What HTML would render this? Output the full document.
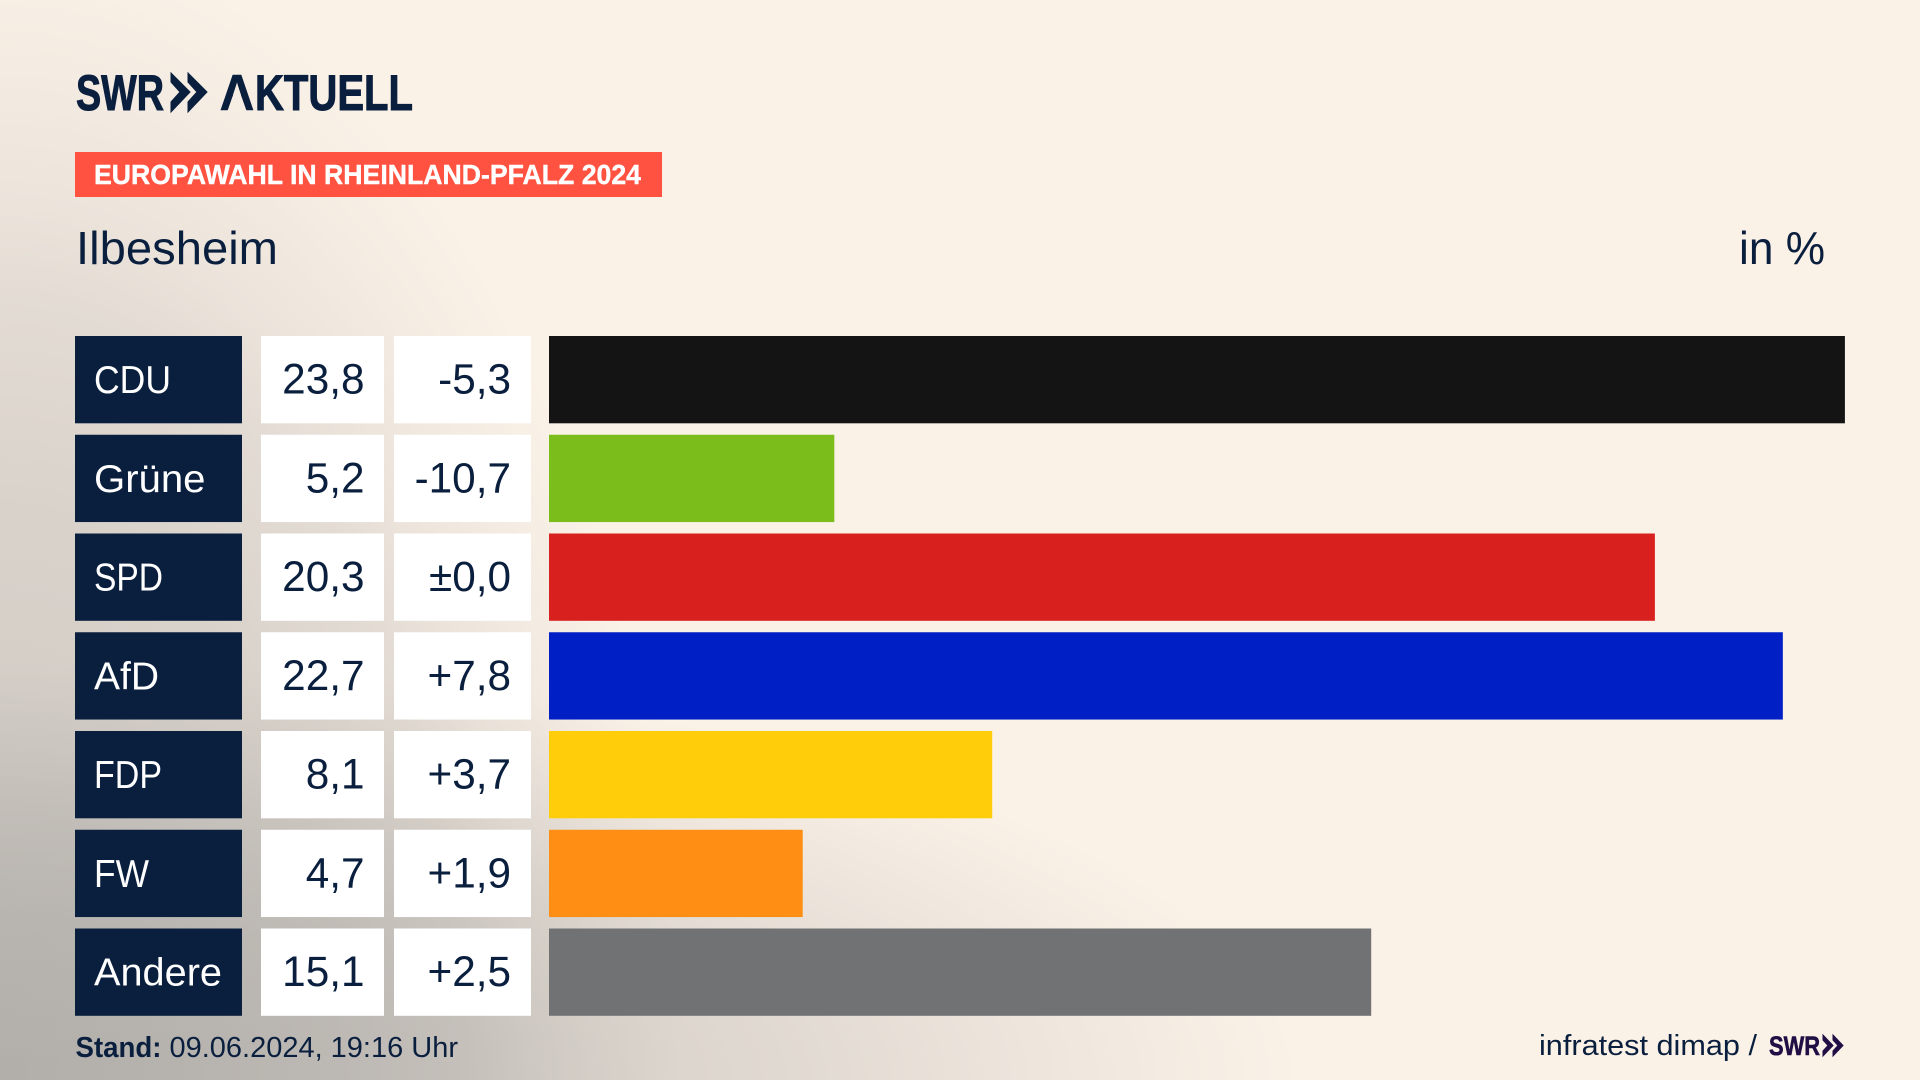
<!DOCTYPE html>
<html lang="de">
<head>
<meta charset="utf-8">
<title>Europawahl in Rheinland-Pfalz 2024 – Ilbesheim</title>
<style>
html,body{margin:0;padding:0;width:1920px;height:1080px;overflow:hidden;background:#faf1e7}
#stage{position:absolute;left:0;top:0;width:1920px;height:1080px;
background:
radial-gradient(ellipse 1300px 420px at 0px 1080px,rgba(128,128,128,.36) 0,rgba(128,128,128,.30) 38%,rgba(128,128,128,.21) 60%,rgba(128,128,128,.115) 77%,rgba(128,128,128,0) 100%),
radial-gradient(ellipse 680px 1150px at 0px 1080px,rgba(128,128,128,.36) 0,rgba(128,128,128,.33) 24%,rgba(128,128,128,.27) 50%,rgba(128,128,128,.19) 68%,rgba(128,128,128,.11) 77%,rgba(128,128,128,.05) 88%,rgba(128,128,128,0) 100%),
#faf1e7}
svg{position:absolute;left:0;top:0}
text{font-family:"Liberation Sans",sans-serif;fill:#0a1f3e}
</style>
</head>
<body>
<div id="stage">
<svg id="chart" width="1920" height="1080" viewBox="0 0 1920 1080" xmlns="http://www.w3.org/2000/svg">
  <defs>
    <clipPath id="no-crossbar"><path clip-rule="evenodd" d="M200 60H430V125H200Z M237 84L227 112L247 112Z"/></clipPath>
  </defs>
  <g>
    <text x="76" y="110" font-size="50" font-weight="700" textLength="88" lengthAdjust="spacingAndGlyphs" stroke="#0a1f3e" stroke-width="1">SWR</text>
    <polygon points="171,73 190,92 171,112 171,102 180,92 171,82" fill="#0a1f3e" stroke="#0a1f3e" stroke-width="1"/>
    <polygon points="188,73 207,92 188,112 188,102 197,92 188,82" fill="#0a1f3e" stroke="#0a1f3e" stroke-width="1"/>
    <text clip-path="url(#no-crossbar)" y="110" font-size="50" font-weight="700" stroke="#0a1f3e" stroke-width="1"><tspan x="220" textLength="34" lengthAdjust="spacingAndGlyphs">A</tspan><tspan x="255" textLength="158" lengthAdjust="spacingAndGlyphs">KTUELL</tspan></text>
  </g>
  <rect x="75" y="152" width="587" height="45" fill="#ff5240"/>
  <text x="94" y="184" font-size="27.5" font-weight="700" style="fill:#fff" stroke="#fff" stroke-width="0.4" textLength="547" lengthAdjust="spacingAndGlyphs">EUROPAWAHL IN RHEINLAND-PFALZ 2024</text>
  <text x="76" y="264" font-size="46" textLength="202" lengthAdjust="spacingAndGlyphs">Ilbesheim</text>
  <text x="1739" y="264" font-size="46" textLength="86" lengthAdjust="spacingAndGlyphs">in %</text>
  <g id="rows"></g>
  <text x="75.5" y="1057" font-size="29"><tspan font-weight="700" textLength="86" lengthAdjust="spacingAndGlyphs">Stand:</tspan></text>
  <text x="169.5" y="1057" font-size="29" textLength="288.5" lengthAdjust="spacingAndGlyphs">09.06.2024, 19:16 Uhr</text>
  <text x="1539" y="1055" font-size="29" textLength="218" lengthAdjust="spacingAndGlyphs">infratest dimap /</text>
  <text x="1769" y="1055" font-size="27" font-weight="700" style="fill:#1f0f45" stroke="#1f0f45" stroke-width="0.6" textLength="51" lengthAdjust="spacingAndGlyphs">SWR</text>
  <polygon points="1823,1035 1833,1045.5 1823,1056 1823,1051 1828,1045.5 1823,1040" fill="#1f0f45" stroke="#1f0f45" stroke-width="1"/>
  <polygon points="1833,1035 1843,1045.5 1833,1056 1833,1051 1838,1045.5 1833,1040" fill="#1f0f45" stroke="#1f0f45" stroke-width="1"/>
</svg>
</div>
<script>
const parties = ['CDU', 'Grüne', 'SPD', 'AfD', 'FDP', 'FW', 'Andere'];
const shares = [23.8, 5.24, 20.31, 22.66, 8.14, 4.66, 15.1];
const changes = [-5.3, -10.7, 0.0, 7.8, 3.7, 1.9, 2.5];
const partyColors = ['#141414', '#7bbd1a', '#d8201e', '#0020c6', '#ffcd0a', '#ff8f14', '#717274'];

const NS = 'http://www.w3.org/2000/svg';
const rowsGroup = document.getElementById('rows');
const BAR_X = 549, PX_PER_POINT = 54.45, ROW_TOP = 336, ROW_PITCH = 98.75, ROW_H = 87.3;
const labelFit = { CDU: 77, 'Grüne': 111.5, SPD: 69, AfD: 65, FDP: 68, FW: 55, Andere: 128 };

function xScale(v) { return BAR_X + v * PX_PER_POINT; }
function yScale(i) { return ROW_TOP + i * ROW_PITCH; }
function formatShare(v) { return v.toFixed(1).replace('.', ','); }
function formatChange(v) {
  const body = Math.abs(v).toFixed(1).replace('.', ',');
  if (v === 0) return '±' + body;
  return (v > 0 ? '+' : '-') + body;
}
function makeRect(x, y, w, h, fill) {
  const r = document.createElementNS(NS, 'rect');
  r.setAttribute('x', x);
  r.setAttribute('y', y);
  r.setAttribute('width', w);
  r.setAttribute('height', h);
  r.setAttribute('fill', fill);
  return r;
}
function makeText(x, y, str) {
  const t = document.createElementNS(NS, 'text');
  t.setAttribute('x', x);
  t.setAttribute('y', y);
  t.textContent = str;
  return t;
}

parties.forEach(function (party, i) {
  const y = yScale(i);
  const base = y + 57;

  const nameBox = makeRect(75, y, 167, ROW_H, '#0a1f3e');
  
  
  rowsGroup.appendChild(nameBox);

  const nameText = makeText(94, base, party);
  
  
  nameText.setAttribute('font-size', '38.5');
  nameText.setAttribute('style', 'fill:#fff');
  if (labelFit[party]) {
    nameText.setAttribute('textLength', labelFit[party]);
    nameText.setAttribute('lengthAdjust', 'spacingAndGlyphs');
  }
  rowsGroup.appendChild(nameText);

  const shareBox = makeRect(261, y, 123, ROW_H, '#ffffff');
  
  
  rowsGroup.appendChild(shareBox);

  const shareText = makeText(364.5, base + 0.5, formatShare(shares[i]));
  
  
  shareText.setAttribute('font-size', '42.3');
  shareText.setAttribute('text-anchor', 'end');
  rowsGroup.appendChild(shareText);

  const changeBox = makeRect(394, y, 137, ROW_H, '#ffffff');
  
  
  rowsGroup.appendChild(changeBox);

  const changeText = makeText(511, base + 0.5, formatChange(changes[i]));
  
  
  changeText.setAttribute('font-size', '42.3');
  changeText.setAttribute('text-anchor', 'end');
  rowsGroup.appendChild(changeText);

  const bar = makeRect(BAR_X, y, xScale(shares[i]) - BAR_X, ROW_H, partyColors[i]);
  
  
  rowsGroup.appendChild(bar);
});
</script>
</body>
</html>
